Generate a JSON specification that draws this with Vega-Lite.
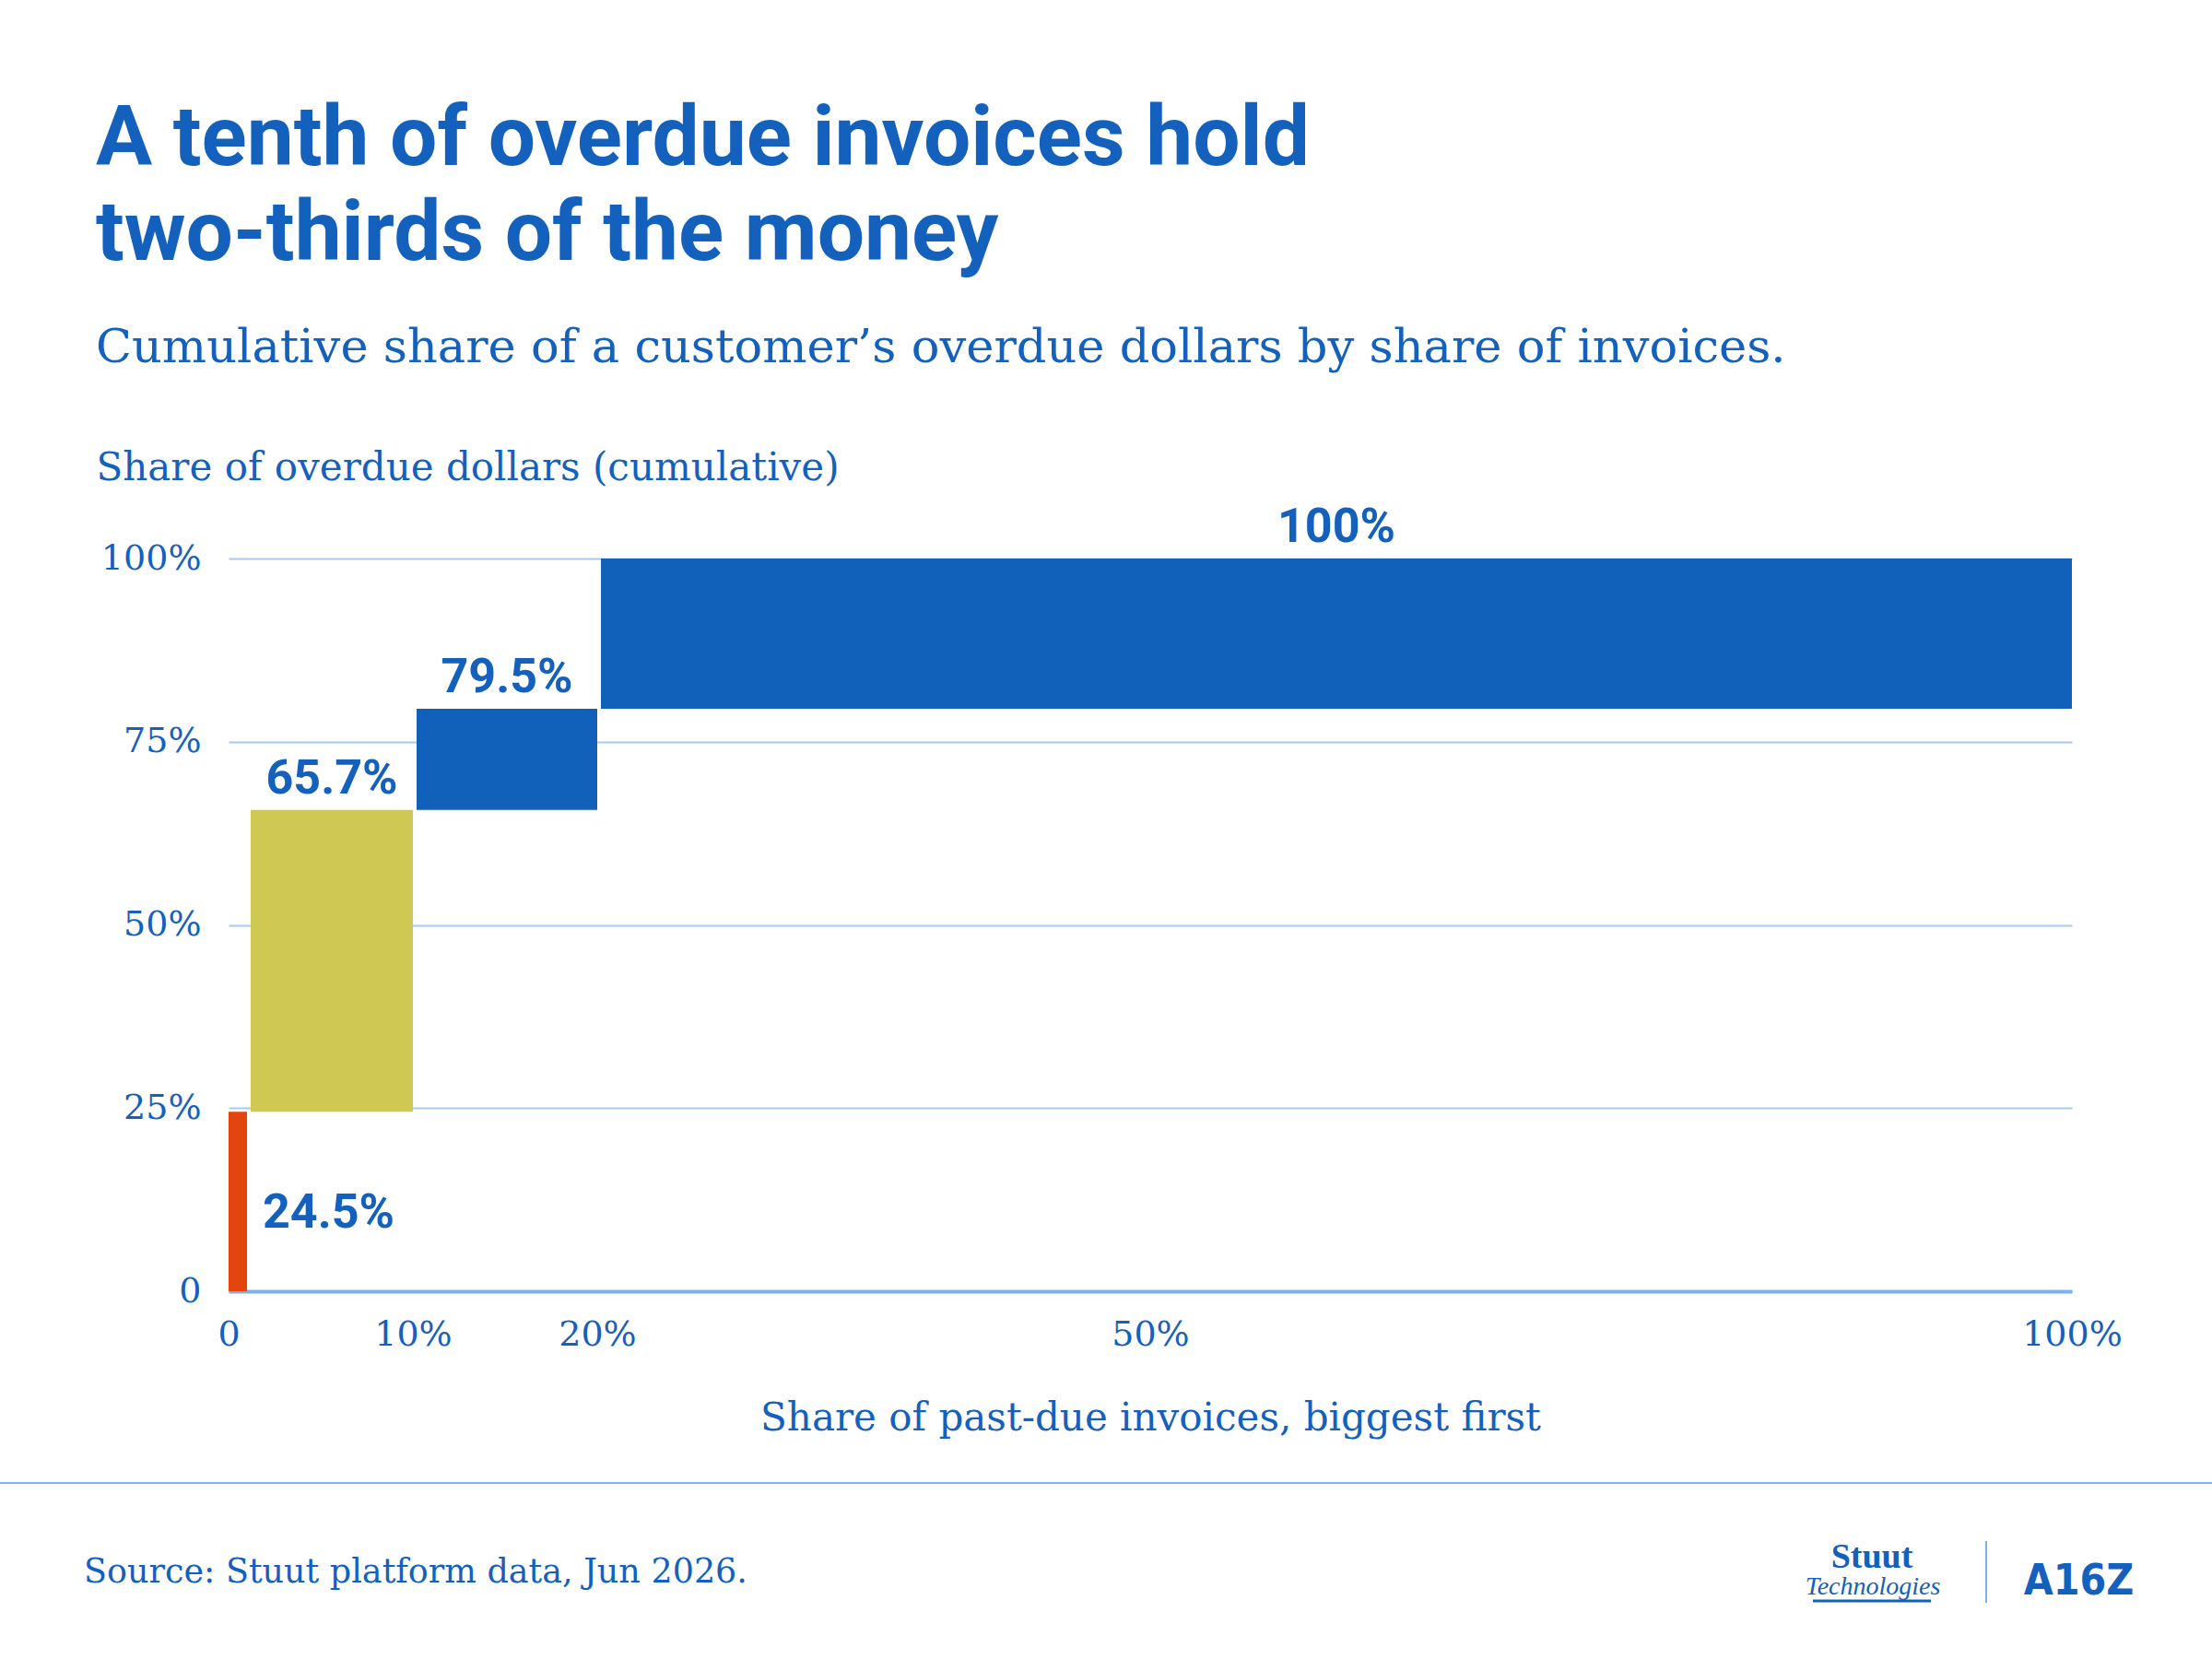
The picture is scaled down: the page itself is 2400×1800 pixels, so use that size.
{
  "$schema": "https://vega.github.io/schema/vega-lite/v6.json",
  "description": "Cumulative share of overdue dollars by share of invoices",
  "width": 2000,
  "height": 795,
  "autosize": {"type": "none"},
  "padding": {"left": 248, "top": 606, "right": 152, "bottom": 399},
  "background": "white",
  "title": {
    "text": ["A tenth of overdue invoices hold", "two-thirds of the money"],
    "subtitle": "Cumulative share of a customer’s overdue dollars by share of invoices.",
    "anchor": "start",
    "frame": "group",
    "dx": -144,
    "offset": 82,
    "font": "Roboto",
    "fontSize": 91,
    "fontWeight": "bold",
    "color": "#1460BD",
    "lineHeight": 103,
    "subtitleFont": "DejaVu Serif",
    "subtitleFontSize": 51,
    "subtitleColor": "#1460BD",
    "subtitlePadding": 52
  },
  "datasets": {
    "buckets": [
      {"bucket": "Top 1%", "start": 0, "end": 0.01, "bottom": 0, "top": 0.245},
      {"bucket": "Next 9%", "start": 0.01, "end": 0.1, "bottom": 0.245, "top": 0.657},
      {"bucket": "Next 10%", "start": 0.1, "end": 0.2, "bottom": 0.657, "top": 0.795},
      {"bucket": "Remaining 80%", "start": 0.2, "end": 1, "bottom": 0.795, "top": 1}
    ]
  },
  "data": {"name": "buckets"},
  "layer": [
    {
      "transform": [{"filter": "datum.start == 0"}],
      "mark": {"type": "rect"},
      "encoding": {
        "x": {
          "field": "start",
          "type": "quantitative",
          "scale": {"domain": [0, 1], "nice": false, "zero": true},
          "axis": {
            "values": [0, 0.1, 0.2, 0.5, 1],
            "labelExpr": "datum.value === 0 ? '0' : format(datum.value, '.0%')",
            "title": "Share of past-due invoices, biggest first",
            "grid": false,
            "domain": true,
            "domainColor": "#7DB0E5",
            "domainWidth": 4,
            "ticks": false,
            "labelPadding": 28,
            "labelFlush": false,
            "labelOverlap": false,
            "titlePadding": 51
          }
        },
        "x2": {"field": "end"},
        "y": {
          "field": "bottom",
          "type": "quantitative",
          "scale": {"domain": [0, 1], "nice": false},
          "axis": {
            "values": [0, 0.25, 0.5, 0.75, 1],
            "labelExpr": "datum.value === 0 ? '0' : format(datum.value, '.0%')",
            "title": "Share of overdue dollars (cumulative)",
            "titleAngle": 0,
            "titleAlign": "left",
            "titleBaseline": "alphabetic",
            "titleX": -144,
            "titleY": -86,
            "titleFontSize": 42,
            "grid": true,
            "gridColor": "#A9C9EE",
            "gridWidth": 2,
            "domain": false,
            "ticks": false,
            "labelPadding": 30,
            "labelBaseline": "middle"
          }
        },
        "y2": {"field": "top"},
        "color": {
          "field": "bucket",
          "type": "nominal",
          "scale": {
            "domain": ["Top 1%", "Next 9%", "Next 10%", "Remaining 80%"],
            "range": ["#E3450F", "#CFC852", "#1160BA", "#1160BA"]
          },
          "legend": null
        }
      }
    },
    {
      "transform": [{"filter": "datum.start > 0"}],
      "mark": {"type": "rect", "xOffset": 4},
      "encoding": {
        "x": {"field": "start", "type": "quantitative"},
        "x2": {"field": "end"},
        "y": {"field": "bottom", "type": "quantitative"},
        "y2": {"field": "top"},
        "color": {"field": "bucket", "type": "nominal", "legend": null}
      }
    },
    {
      "transform": [
        {"filter": "datum.start > 0"},
        {"fold": ["start", "end"], "as": ["edge", "xpos"]},
        {"aggregate": [{"op": "mean", "field": "xpos", "as": "xmid"}], "groupby": ["bucket", "top"]}
      ],
      "mark": {"type": "text", "font": "Roboto", "fontWeight": "bold", "fontSize": 52, "color": "#1460BD", "align": "center", "baseline": "alphabetic", "dx": 2, "dy": -18},
      "encoding": {
        "x": {"field": "xmid", "type": "quantitative"},
        "y": {"field": "top", "type": "quantitative"},
        "text": {"field": "top", "type": "quantitative", "format": ".1~%"}
      }
    },
    {
      "transform": [
        {"filter": "datum.start == 0"},
        {"fold": ["bottom", "top"], "as": ["edge", "ypos"]},
        {"aggregate": [{"op": "mean", "field": "ypos", "as": "ymid"}], "groupby": ["bucket", "end", "top"]}
      ],
      "mark": {"type": "text", "font": "Roboto", "fontWeight": "bold", "fontSize": 52, "color": "#1460BD", "align": "left", "baseline": "alphabetic", "dx": 17, "dy": 28},
      "encoding": {
        "x": {"field": "end", "type": "quantitative"},
        "y": {"field": "ymid", "type": "quantitative"},
        "text": {"field": "top", "type": "quantitative", "format": ".1~%"}
      }
    },
    {
      "data": {"values": [{}]},
      "mark": {"type": "rule", "color": "#86B4EA", "strokeWidth": 2},
      "encoding": {
        "x": {"datum": -0.124},
        "x2": {"datum": 1.076},
        "y": {"datum": -0.2616}
      }
    },
    {
      "data": {"values": [{}]},
      "mark": {"type": "text", "text": "Source: Stuut platform data, Jun 2026.", "font": "DejaVu Serif", "fontSize": 36.5, "color": "#1460BD", "align": "left", "baseline": "alphabetic"},
      "encoding": {
        "x": {"datum": -0.0785},
        "y": {"datum": -0.3975}
      }
    },
    {
      "data": {"values": [{}]},
      "mark": {"type": "text", "text": "Stuut", "font": "Liberation Serif", "fontWeight": "bold", "fontSize": 38, "color": "#1460BD", "align": "center", "baseline": "alphabetic"},
      "encoding": {
        "x": {"datum": 0.8915},
        "y": {"datum": -0.3774}
      }
    },
    {
      "data": {"values": [{}]},
      "mark": {"type": "text", "text": "Technologies", "font": "Liberation Serif", "fontStyle": "italic", "fontSize": 28, "color": "#1460BD", "align": "center", "baseline": "alphabetic"},
      "encoding": {
        "x": {"datum": 0.892},
        "y": {"datum": -0.4138}
      }
    },
    {
      "data": {"values": [{}]},
      "mark": {"type": "rule", "color": "#1460BD", "strokeWidth": 3},
      "encoding": {
        "x": {"datum": 0.8595},
        "x2": {"datum": 0.9235},
        "y": {"datum": -0.4226}
      }
    },
    {
      "data": {"values": [{}]},
      "mark": {"type": "rule", "color": "#7DB0E5", "strokeWidth": 2},
      "encoding": {
        "x": {"datum": 0.9535},
        "y": {"datum": -0.3409},
        "y2": {"datum": -0.4252}
      }
    },
    {
      "data": {"values": [{}]},
      "mark": {"type": "text", "text": "A16Z", "font": "DejaVu Sans Condensed", "fontWeight": "bold", "fontSize": 46, "color": "#1460BD", "align": "center", "baseline": "alphabetic"},
      "encoding": {
        "x": {"datum": 1.00375},
        "y": {"datum": -0.4138}
      }
    }
  ],
  "config": {
    "view": {"stroke": null},
    "axis": {
      "labelFont": "DejaVu Serif",
      "labelFontSize": 38,
      "labelColor": "#1460BD",
      "titleFont": "DejaVu Serif",
      "titleFontSize": 42,
      "titleFontWeight": "normal",
      "titleColor": "#1460BD"
    }
  }
}
